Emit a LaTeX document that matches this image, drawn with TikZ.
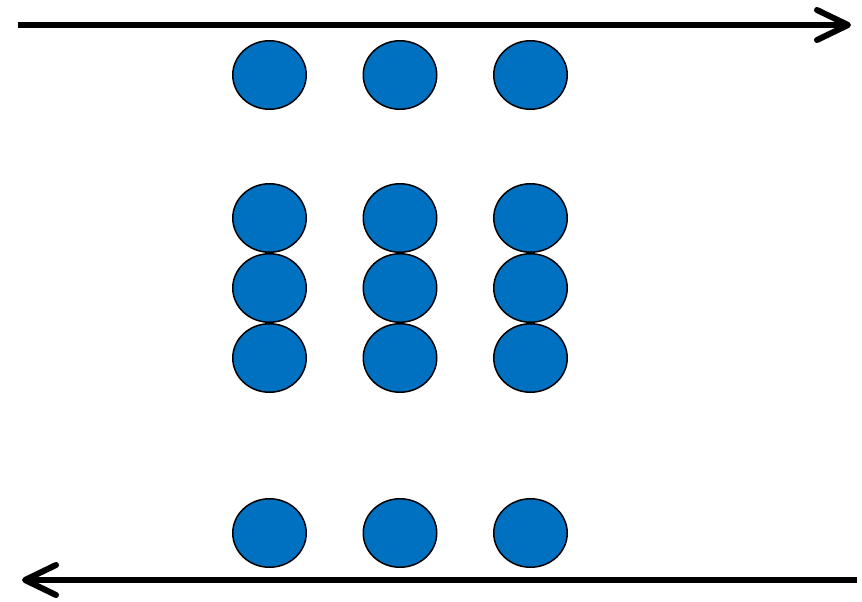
\documentclass[tikz,border=0pt]{standalone}
\usetikzlibrary{arrows.meta,shapes.geometric}
\definecolor{dotblue}{HTML}{0070C0}
\begin{document}
\begin{tikzpicture}[x=1pt,y=-1pt,
  dot/.style={ellipse,draw=black,line width=1.5pt,fill=dotblue,minimum width=73.5pt,minimum height=68.5pt,inner sep=0pt},
  flow/.style={line width=6pt,-{Straight Barb[length=31pt,width=30pt,line width=6pt,round]}}]
\useasboundingbox (0,0) rectangle (862,602);
\coordinate (t0) at (18,25);
\coordinate (t1) at (851,25);
\coordinate (b0) at (857,580);
\coordinate (b1) at (22,580);
\draw[flow] (t0) -- (t1);
\draw[flow] (b0) -- (b1);
\foreach \c/\x in {a/269.5,b/400,c/530.5}{
  \foreach \r/\y in {1/75,2/218,3/288,4/358,5/533}{
    \node[dot] (\c\r) at (\x,\y) {};
  }
}
\end{tikzpicture}
\end{document}
